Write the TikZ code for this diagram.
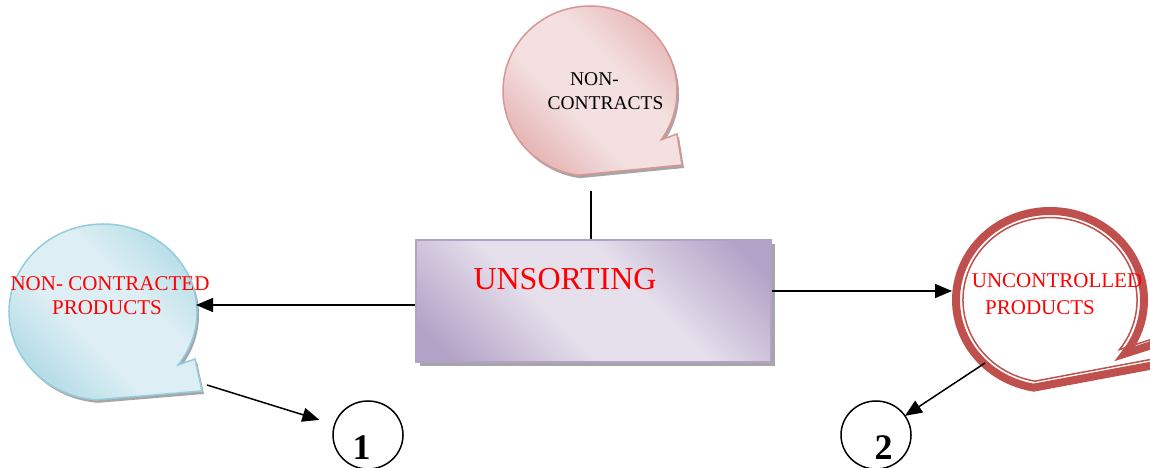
\documentclass[tikz,border=0pt]{standalone}
\usepackage{fontspec}
\setmainfont{Liberation Serif}
\usetikzlibrary{arrows.meta,shapes.geometric,shadows}

\definecolor{pdark}{HTML}{B3A2C7}
\definecolor{plight}{HTML}{E6E0EC}
\definecolor{pborder}{HTML}{B3A2C7}
\definecolor{bdark}{HTML}{A5D4E1}
\definecolor{blight}{HTML}{DDEFF4}
\definecolor{bborder}{HTML}{93CDDD}
\definecolor{kdark}{HTML}{DFA6A5}
\definecolor{klight}{HTML}{F4E0E0}
\definecolor{kborder}{HTML}{D99694}
\definecolor{rring}{HTML}{C0504D}
\definecolor{shadowgray}{HTML}{A6A6A6}

\pgfdeclareverticalshading{pshade}{100bp}{color(0bp)=(pdark); color(20bp)=(pdark); color(42bp)=(plight); color(58bp)=(plight); color(80bp)=(pdark); color(100bp)=(pdark)}
\pgfdeclareverticalshading{bshade}{100bp}{color(0bp)=(bdark); color(20bp)=(bdark); color(42bp)=(blight); color(58bp)=(blight); color(80bp)=(bdark); color(100bp)=(bdark)}
\pgfdeclareverticalshading{kshade}{100bp}{color(0bp)=(kdark); color(20bp)=(kdark); color(42bp)=(klight); color(58bp)=(klight); color(80bp)=(kdark); color(100bp)=(kdark)}

\begin{document}
\begin{tikzpicture}[x=1pt,y=1pt,
  redlbl/.style={font=\fontsize{21}{25}\selectfont, text=red, anchor=base, inner sep=0},
  blklbl/.style={font=\fontsize{19.5}{23}\selectfont, text=black, anchor=base, inner sep=0},
  numlbl/.style={font=\bfseries\fontsize{36}{36}\selectfont, text=black, anchor=base, inner sep=0},
  conn/.style={line width=1.5pt, black},
  arr/.style={conn, -{Triangle[length=17pt,width=14pt]}},
  anc/.style={ellipse, draw=none, inner sep=0, outer sep=0},
  numc/.style={ellipse, draw=black, line width=1.5pt, minimum width=70, minimum height=68, inner sep=0, outer sep=0},
  shad/.style={drop shadow={shadow xshift=2pt,shadow yshift=-3pt,fill=shadowgray,opacity=1}},
  ]
\useasboundingbox (0,0) rectangle (1150,468);
\fill[white] (0,0) rectangle (1150,468);

% blue callout
\begin{scope}[shift={(103,156)}]
\path[shad, shade, shading=bshade, shading angle=-45, draw=bborder, line width=1.5pt]
  (-37:94 and 88) arc[start angle=-37,end angle=266,x radius=94,y radius=88]
  -- (99,-79) -- (92,-47) -- cycle;
\end{scope}
\node[anc, minimum width=188, minimum height=176] (blue) at (103,156) {};

% pink callout
\begin{scope}[shift={(590,377)}]
\path[shad, shade, shading=kshade, shading angle=-45, draw=kborder, line width=1.5pt]
  (-35:87 and 85) arc[start angle=-35,end angle=262,x radius=87,y radius=85]
  -- (92,-74) -- (87,-43) -- cycle;
\end{scope}
\node[anc, minimum width=174, minimum height=170] (pink) at (590,377) {};

% red callout
\begin{scope}[shift={(1050,168)}]
\path[draw=rring, line width=8pt, fill=white]
  (-37:94 and 89) arc[start angle=-37,end angle=260,x radius=94,y radius=89]
  -- (110,-64) -- (108,-43) -- cycle;
\path[draw=rring, line width=1.5pt, scale=0.926]
  (-37:94 and 89) arc[start angle=-37,end angle=260,x radius=94,y radius=89]
  -- (110,-64) -- (108,-43) -- cycle;
\end{scope}
\node[anc, minimum width=196, minimum height=186] (red) at (1050,168) {};

% central box
\node[draw=pborder, line width=2pt, shade, shading=pshade, shading angle=-45,
      minimum width=355, minimum height=122, inner sep=0,
      drop shadow={shadow xshift=4pt,shadow yshift=-4pt,fill=shadowgray,opacity=1}] (box) at (593.5,167) {};
\node[font=\fontsize{32}{36}\selectfont, text=red, anchor=base, inner sep=0] (unsort) at (565,178) {UNSORTING};

% labels
\node[redlbl] (bl1) at (110,177) {NON- CONTRACTED};
\node[redlbl] (bl2) at (107,153) {PRODUCTS};
\node[blklbl] (pl1) at (594.5,382) {NON-};
\node[blklbl] (pl2) at (605.5,358) {CONTRACTS};
\node[redlbl] (rl1) at (1057,180) {UNCONTROLLED};
\node[redlbl] (rl2) at (1040,153) {PRODUCTS};

% numbered circles
\node[numc] (c1) at (368,33) {};
\node[numlbl] (n1) at (361.5,8) {1};
\node[numc] (c2) at (876,33) {};
\node[numlbl] (n2) at (883.5,8) {2};

% connectors
\coordinate (vtop) at (591,277);
\draw[conn] (vtop) -- (vtop |- box.north);
\draw[arr] ([yshift=-4pt]box.west) -- ([yshift=-4pt,xshift=-1pt]box.west -| blue.east);
\draw[arr] ([yshift=10pt]box.east) -- ([yshift=9pt]red.west);
\coordinate (t1) at (207,83);
\draw[arr, shorten >=16pt] (t1) -- (c1);
\coordinate (t2) at (985,105);
\draw[arr] (t2) -- (c2);
\end{tikzpicture}
\end{document}
